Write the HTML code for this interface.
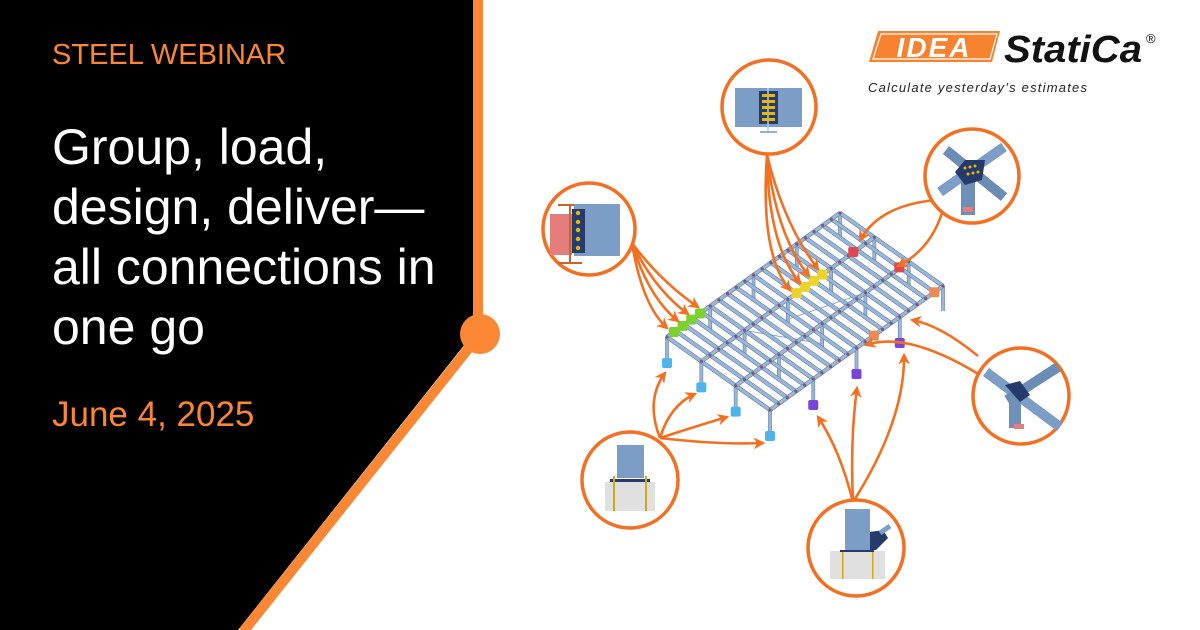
<!DOCTYPE html>
<html><head><meta charset="utf-8">
<style>
html,body{margin:0;padding:0;background:#fff;}
#c{position:relative;width:1200px;height:630px;overflow:hidden;background:#fff;font-family:"Liberation Sans",sans-serif;}
svg{position:absolute;left:0;top:0;}
.t{position:absolute;left:52px;white-space:nowrap;}
</style></head><body>
<div id="c">
<svg width="1200" height="630" viewBox="0 0 1200 630">
  <defs>
    <marker id="ah" viewBox="0 0 10 10" refX="8" refY="5" markerWidth="4.5" markerHeight="4.5" orient="auto" markerUnits="strokeWidth">
      <path d="M0,0 L10,5 L0,10 L3,5 z" fill="#f36f21"/>
    </marker>
  </defs>
  <polygon points="0,0 473,0 473,334 238,630 0,630" fill="#000"/>
  <line x1="478" y1="0" x2="478" y2="334" stroke="#fb8634" stroke-width="10"/>
  <line x1="480" y1="334" x2="243" y2="632" stroke="#fb8634" stroke-width="10"/>
  <circle cx="480" cy="334" r="20" fill="#fb8634"/>

  <!-- logo -->
  <polygon points="878,31 1000,31 992,62 869,62" fill="#f7822f"/>
  <polygon points="881,34 997,34 990,59 873,59" fill="none" stroke="#fff" stroke-width="1.2"/>
  <text x="934" y="57" font-family="Liberation Sans" font-weight="bold" font-style="italic" font-size="28" fill="#fff" text-anchor="middle" letter-spacing="2">IDEA</text>
  <text x="1004" y="62" font-family="Liberation Sans" font-weight="bold" font-style="italic" font-size="38" fill="#111" textLength="138" lengthAdjust="spacingAndGlyphs">StatiCa</text>
  <text x="1146" y="43" font-family="Liberation Sans" font-size="13" fill="#111">®</text>
  <text x="868" y="92" font-family="Liberation Sans" font-style="italic" font-size="13" fill="#222" textLength="219" lengthAdjust="spacing">Calculate yesterday’s estimates</text>

  <g id="frame"></g>
  <g id="arrows" fill="none" stroke="#f36f21" stroke-width="2.6" marker-end="url(#ah)"></g>

  <!-- circles -->
  <g stroke="#f36f21" stroke-width="3.5" fill="#fff">
    <circle cx="589" cy="229" r="46"/>
    <circle cx="769" cy="107" r="47"/>
    <circle cx="972" cy="176" r="47"/>
    <circle cx="1021" cy="396" r="48"/>
    <circle cx="630" cy="480" r="48"/>
    <circle cx="856" cy="548" r="48"/>
  </g>
  <!-- circle 1 content -->
  <rect x="550" y="214" width="22" height="41" fill="#e57d7d"/>
  <line x1="558" y1="205" x2="582" y2="205" stroke="#c8652c" stroke-width="2"/>
  <line x1="558" y1="263" x2="582" y2="263" stroke="#c8652c" stroke-width="2"/>
  <line x1="570" y1="205" x2="570" y2="263" stroke="#c8652c" stroke-width="2"/>
  <rect x="574" y="204" width="46" height="52" fill="#7b9dc6"/>
  <rect x="572" y="209" width="13" height="44" fill="#263a6c"/>
  <g fill="#e3b90c"><circle cx="578" cy="213" r="2.2"/><circle cx="578" cy="222" r="2.2"/><circle cx="578" cy="230" r="2.2"/><circle cx="578" cy="239" r="2.2"/><circle cx="578" cy="248" r="2.2"/></g>
  <!-- circle 2 content -->
  <rect x="735" y="88" width="67" height="39" fill="#7b9dc6"/>
  <rect x="759" y="91" width="19" height="33" fill="#263a6c"/>
  <line x1="768" y1="88" x2="768" y2="132" stroke="#b9cde2" stroke-width="1.5"/>
  <line x1="760" y1="132" x2="777" y2="132" stroke="#8fb0d2" stroke-width="2"/>
  <g fill="#e3b90c"><rect x="762" y="94" width="13" height="3"/><rect x="762" y="100" width="13" height="3"/><rect x="762" y="106" width="13" height="3"/><rect x="762" y="112" width="13" height="3"/><rect x="762" y="118" width="13" height="3"/></g>
  <!-- circle 3 content -->
  <line x1="940" y1="192" x2="1004" y2="147" stroke="#7b9dc6" stroke-width="10"/>
  <line x1="946" y1="150" x2="1004" y2="197" stroke="#6a8cb5" stroke-width="10"/>
  <rect x="961" y="178" width="14" height="37" fill="#6e8fb8"/>
  <rect x="963" y="207" width="10" height="5" fill="#e57d7d"/>
  <polygon points="955,172 965,160 985,160 982,180 965,185" fill="#263a6c"/>
  <g fill="#e3b90c"><circle cx="965" cy="168" r="1.5"/><circle cx="970" cy="167" r="1.5"/><circle cx="975" cy="166" r="1.5"/><circle cx="968" cy="174" r="1.5"/><circle cx="973" cy="173" r="1.5"/><circle cx="978" cy="172" r="1.5"/></g>
  <!-- circle 4 content -->
  <line x1="986" y1="372" x2="1060" y2="427" stroke="#7b9dc6" stroke-width="10"/>
  <line x1="1007" y1="400" x2="1058" y2="367" stroke="#6a8cb5" stroke-width="10"/>
  <rect x="1009" y="396" width="12" height="32" fill="#6e8fb8"/>
  <rect x="1014" y="424" width="10" height="5" fill="#e57d7d"/>
  <polygon points="1005,385 1020,381 1030,395 1020,402" fill="#263a6c"/>
  <!-- circle 5 content -->
  <rect x="605" y="482" width="50" height="29" fill="#e0e0e0"/>
  <rect x="617" y="445" width="27" height="33" fill="#7b9dc6"/>
  <rect x="610" y="479" width="40" height="3" fill="#263a6c"/>
  <rect x="613" y="476" width="2" height="35" fill="#d2a818"/>
  <rect x="645" y="476" width="2" height="35" fill="#d2a818"/>
  <!-- circle 6 content -->
  <rect x="830" y="551" width="55" height="28" fill="#e0e0e0"/>
  <rect x="845" y="509" width="25" height="41" fill="#7b9dc6"/>
  <rect x="840" y="550" width="34" height="2" fill="#263a6c"/>
  <polygon points="870,532 883,530 888,538 876,550 870,550" fill="#263a6c"/>
  <line x1="880" y1="533" x2="890" y2="526" stroke="#7b9dc6" stroke-width="5"/>
  <rect x="842" y="552" width="1.5" height="27" fill="#d2a818"/>
  <rect x="872" y="552" width="1.5" height="27" fill="#d2a818"/>
</svg>
<div class="t" style="top:39px;font-size:29px;color:#fb8634;">STEEL WEBINAR</div>
<div class="t" style="top:117px;font-size:50px;line-height:60px;color:#fff;">Group, load,<br>design, deliver—<br>all connections in<br>one go</div>
<div class="t" style="top:395px;font-size:35px;color:#fb8634;">June 4, 2025</div>
<script>
(function(){
var NS="http://www.w3.org/2000/svg";
var f=document.getElementById('frame');
function el(n,a){var e=document.createElementNS(NS,n);for(var k in a)e.setAttribute(k,a[k]);f.appendChild(e);return e;}
var A=[667,337],u=[173,-124],v=[103,73];
function P(s,t){return [A[0]+s*u[0]+t*v[0],A[1]+s*u[1]+t*v[1]];}
function beam(p,q,w){el('line',{x1:p[0],y1:p[1],x2:q[0],y2:q[1],stroke:'#5f7fa8','stroke-width':w+1.2});el('line',{x1:p[0],y1:p[1],x2:q[0],y2:q[1],stroke:'#9bb6d8','stroke-width':w});}
var cols=[];
[0,1/3,2/3,1].forEach(function(t){cols.push([0,t]);cols.push([1,t]);});
[0.25,0.5,0.75].forEach(function(s){cols.push([s,1]);cols.push([s,0]);cols.push([s,1/3]);cols.push([s,2/3]);});
cols.forEach(function(c){var p=P(c[0],c[1]);beam(p,[p[0],p[1]+25],2.5);});
[[0,0],[0,1/3],[0,2/3],[0,1]].forEach(function(c){var p=P(c[0],c[1]);el('rect',{x:p[0]-5,y:p[1]+21,width:10,height:10,rx:2,fill:'#4fb4ec'});});
[[0.25,1],[0.5,1],[0.75,1]].forEach(function(c){var p=P(c[0],c[1]);el('rect',{x:p[0]-5,y:p[1]+21,width:10,height:10,rx:2,fill:'#7a44d8'});});
el('line',{x1:P(0.25,1/3)[0],y1:P(0.25,1/3)[1],x2:P(0.5,2/3)[0],y2:P(0.5,2/3)[1]+20,stroke:'#86a6cc','stroke-width':1});
el('line',{x1:P(0.5,1/3)[0],y1:P(0.5,1/3)[1]+20,x2:P(0.75,2/3)[0],y2:P(0.75,2/3)[1],stroke:'#86a6cc','stroke-width':1});
for(var k=0;k<=20;k++){beam(P(k/20,0),P(k/20,1),3);}
[0,1/3,2/3,1].forEach(function(t){beam(P(0,t),P(1,t),3);});
for(var k=0;k<=20;k++)[0,1/3,2/3,1].forEach(function(t){var p=P(k/20,t);el('circle',{cx:p[0],cy:p[1],r:1.6,fill:'#7d5a72'});});
function node(s,t,c){var p=P(s,t);el('rect',{x:p[0]-5,y:p[1]-5,width:10,height:10,rx:2,fill:c});}
[0.04,0.09,0.14,0.19].forEach(function(s){node(s,0,'#7cd12c');});
[0.55,0.6,0.65,0.7].forEach(function(s){node(s,1/3,'#eed22c');});
node(0.88,0.33,'#e0474f');node(0.95,0.66,'#e0474f');
node(0.6,1,'#ea8a55');node(0.95,1,'#ea8a55');
var g=document.getElementById('arrows');
function ar(d){var e=document.createElementNS(NS,'path');e.setAttribute('d',d);g.appendChild(e);}
var o=[632,243];
[[667,328],[678,321],[688,314],[698,307]].forEach(function(q,i){ar('M'+o[0]+','+o[1]+' Q'+(642+i*6)+','+(305-i*8)+' '+q[0]+','+q[1]);});
var o2=[767,155];
[[790,290],[800,283],[809,276],[818,269]].forEach(function(q,i){ar('M'+o2[0]+','+o2[1]+' Q'+(760+i*8)+','+(255-i*10)+' '+q[0]+','+q[1]);});
ar('M936,200 Q880,205 860,240');ar('M942,213 Q930,250 898,266');
ar('M978,356 Q940,325 912,320');ar('M988,380 Q910,330 866,345');
ar('M660,438 Q645,400 665,373');ar('M660,438 Q670,405 695,394');ar('M660,438 Q700,425 727,417');ar('M660,438 Q720,445 763,443');
ar('M853,502 Q840,450 818,417');ar('M853,502 Q850,440 857,388');ar('M853,502 Q905,420 904,355');
})();
</script>
</div>
</body></html>
